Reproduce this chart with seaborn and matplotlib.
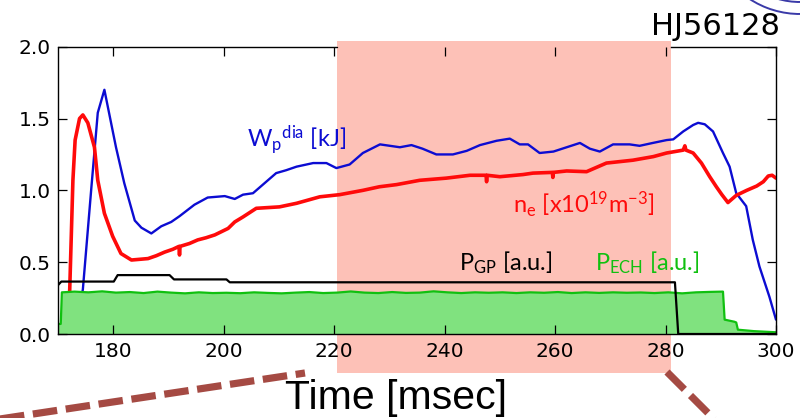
import matplotlib
matplotlib.use("Agg")
import matplotlib.pyplot as plt
import matplotlib.transforms as mtransforms
from matplotlib.patches import Rectangle, Arc
from matplotlib.lines import Line2D
import seaborn as sns

# ---------------- data ----------------
t_wp = [173.0, 174.5, 176.0, 177.2, 178.4, 180.5, 182.0, 183.9, 185.1, 186.9,
        188.7, 190.5, 192.0, 194.7, 197.1, 200.2, 202.0, 203.5, 205.3, 207.1,
        209.5, 211.3, 213.2, 216.2, 218.6, 220.4, 222.8, 225.2, 228.3, 231.9,
        234.0, 236.0, 238.5, 241.5, 244.0, 246.4, 249.4, 251.8, 253.6, 255.1,
        257.2, 259.7, 262.1, 264.5, 266.3, 268.1, 270.5, 273.5, 275.3, 277.7,
        280.2, 281.4, 283.2, 285.0, 285.9, 287.1, 288.6, 290.4, 291.6, 292.8,
        294.6, 295.8, 297.0, 298.8, 300.0]
wp = [0.0, 0.31, 1.00, 1.54, 1.70, 1.30, 1.05, 0.79, 0.74, 0.70,
      0.75, 0.78, 0.82, 0.90, 0.95, 0.96, 0.94, 0.97, 0.98, 1.04,
      1.12, 1.14, 1.165, 1.19, 1.19, 1.155, 1.18, 1.26, 1.32, 1.30,
      1.315, 1.29, 1.25, 1.25, 1.275, 1.315, 1.345, 1.36, 1.32, 1.32,
      1.26, 1.27, 1.30, 1.33, 1.29, 1.27, 1.32, 1.32, 1.31, 1.33,
      1.35, 1.355, 1.41, 1.455, 1.47, 1.46, 1.41, 1.26, 1.165, 0.98,
      0.89, 0.655, 0.47, 0.26, 0.10]

t_ne = [171.5, 172.1, 172.7, 173.1, 173.9, 174.5, 175.4, 176.6, 177.2, 178.4,
        179.9, 181.4, 183.3, 184.8, 186.3, 187.8, 189.3, 190.8, 191.9, 192.0,
        192.1, 193.8, 195.3, 196.8, 198.4, 200.8, 202.0, 203.5, 205.9, 208.0,
        210.1, 213.2, 217.4, 221.0, 225.2, 228.2, 231.3, 235.5, 240.3, 244.6,
        247.5, 247.6, 247.7, 250.0, 254.2, 256.0, 259.5, 259.6, 259.7, 262.1,
        265.7, 269.3, 271.7, 274.1, 277.8, 280.2, 283.2, 283.5, 283.7, 285.0,
        286.5, 288.0, 289.2, 290.2, 291.3, 292.8, 294.7, 296.5, 297.7, 298.6,
        299.3, 300.0]
ne = [0.0, 0.28, 1.07, 1.35, 1.50, 1.525, 1.47, 1.30, 1.07, 0.84,
      0.68, 0.56, 0.515, 0.52, 0.525, 0.545, 0.57, 0.59, 0.61, 0.55,
      0.61, 0.63, 0.655, 0.67, 0.69, 0.735, 0.78, 0.815, 0.875, 0.88,
      0.885, 0.91, 0.955, 0.97, 1.00, 1.025, 1.04, 1.07, 1.085, 1.105,
      1.105, 1.06, 1.105, 1.095, 1.11, 1.12, 1.125, 1.09, 1.125, 1.135,
      1.13, 1.19, 1.20, 1.21, 1.235, 1.26, 1.28, 1.31, 1.28, 1.26,
      1.19, 1.095, 1.025, 0.97, 0.915, 0.965, 1.00, 1.03, 1.06, 1.10,
      1.105, 1.085]

t_gp = [170.0, 170.6, 180.1, 180.8, 190.2, 191.0, 200.5, 201.1, 281.7, 282.3, 300.0]
gp = [0.34, 0.365, 0.365, 0.41, 0.41, 0.38, 0.38, 0.36, 0.36, 0.0, 0.0]

t_ech = [170.0, 170.5, 170.7, 173.0, 175.5, 178.0, 180.5, 183.0, 185.5, 188.0,
         190.5, 193.0, 195.5, 198.0, 200.5, 203.0, 205.5, 208.0, 210.5, 213.0,
         215.5, 218.0, 220.5, 223.0, 225.5, 228.0, 230.5, 233.0, 235.5, 238.0,
         240.5, 243.0, 245.5, 248.0, 250.5, 253.0, 255.5, 258.0, 260.5, 263.0,
         265.5, 268.0, 270.5, 273.0, 275.5, 278.0, 280.5, 283.0, 285.5, 288.0,
         290.4, 290.7, 292.5, 292.8, 293.1, 296.0, 300.0]
ech = [0.07, 0.07, 0.29, 0.295, 0.29, 0.297, 0.288, 0.292, 0.285, 0.295,
       0.288, 0.283, 0.29, 0.285, 0.287, 0.284, 0.29, 0.286, 0.283, 0.288,
       0.292, 0.285, 0.288, 0.296, 0.288, 0.285, 0.292, 0.286, 0.288, 0.297,
       0.29, 0.285, 0.29, 0.287, 0.29, 0.285, 0.29, 0.287, 0.292, 0.285,
       0.29, 0.286, 0.29, 0.287, 0.289, 0.285, 0.29, 0.283, 0.29, 0.293,
       0.295, 0.10, 0.085, 0.08, 0.03, 0.02, 0.012]

shade_span = [220.5, 281.0]
x_ticks = [180, 200, 220, 240, 260, 280, 300]
y_ticks = [0.0, 0.5, 1.0, 1.5, 2.0]

# ---------------- style ----------------
sns.set_style("ticks")
plt.rcParams['font.family'] = ['DejaVu Sans']
plt.rcParams['mathtext.fontset'] = 'custom'
plt.rcParams['mathtext.rm'] = 'Lato'
plt.rcParams['mathtext.it'] = 'Lato:italic'
plt.rcParams['mathtext.bf'] = 'Lato:bold'

W, H = 800, 418
fig = plt.figure(figsize=(8, 4.18), dpi=100)
ax = fig.add_axes([58 / W, 1 - 334 / H, (776 - 58) / W, (334 - 46.7) / H])
ax.set_axisbelow(False)

C_BLUE = "#0c0cd2"
C_RED = "#ff0a0a"
C_GREEN = "#10c010"
C_FILL = "#80e27f"
C_PINK = "#fdc1b7"
C_BROWN = "#a54a43"

# pink shaded window, reaching beyond the axes vertically
trans = mtransforms.blended_transform_factory(ax.transData, fig.transFigure)
y0f, y1f = 1 - 373 / H, 1 - 41 / H
ax.add_patch(Rectangle((shade_span[0], y0f), shade_span[1] - shade_span[0], y1f - y0f,
                       transform=trans, facecolor=C_PINK, edgecolor="none",
                       clip_on=False, zorder=1))

sns.lineplot(x=t_wp, y=wp, ax=ax, color=C_BLUE, lw=1.7, estimator=None, sort=False, zorder=2)
sns.lineplot(x=t_ne, y=ne, ax=ax, color=C_RED, lw=2.6, estimator=None, sort=False, zorder=2.1)
ax.fill_between(t_ech, ech, 0, color=C_FILL, lw=0, zorder=3)
sns.lineplot(x=t_ech, y=ech, ax=ax, color=C_GREEN, lw=1.6, estimator=None, sort=False, zorder=3.1)
sns.lineplot(x=t_gp, y=gp, ax=ax, color="black", lw=1.6, estimator=None, sort=False, zorder=4)

ax.set_xlim(170, 300)
ax.set_ylim(0, 2.0)
ax.set_xticks(x_ticks)
ax.set_yticks(y_ticks)
ax.set_yticklabels([f"{v:.1f}" for v in y_ticks])
ax.set_xlabel("")
ax.set_ylabel("")
ax.tick_params(direction="in", top=True, right=True, length=6.5, width=0.9,
               labelsize=14.5, pad=6, colors="black")
ax.tick_params(axis="y", pad=5)
ax.xaxis.set_zorder(4.5)
ax.yaxis.set_zorder(4.5)
for s in ax.spines.values():
    s.set_visible(True)
    s.set_linewidth(1.0)
    s.set_color("black")
    s.set_zorder(5)
# top frame is hidden under the pink window, as in the reference
ax.spines['top'].set_bounds(shade_span[1], 300)
ax.axhline(2.0, xmin=0, xmax=(shade_span[0] - 170) / 130, color="black",
           lw=1.0, clip_on=False, zorder=5)

# ---------------- texts ----------------
def ftxt(x, y, s, **kw):
    fig.text(x / W, 1 - y / H, s, va="baseline", **kw)

LAB = ["Lato", "DejaVu Sans"]
ftxt(247, 147, r"W$_\mathregular{p}$$^\mathregular{dia}$ [kJ]", color=C_BLUE, fontsize=17, family=LAB)
ftxt(513, 213, r"n$_\mathregular{e}$ [x10$^\mathregular{19}$m$^\mathregular{-3}$]", color=C_RED, fontsize=17, family=LAB)
ftxt(459, 270, r"P$_\mathregular{GP}$ [a.u.]", color="black", fontsize=17, family=LAB)
ftxt(595, 270, r"P$_\mathregular{ECH}$ [a.u.]", color=C_GREEN, fontsize=17, family=LAB)
ftxt(780, 35, "HJ56128", color="black", fontsize=22, ha="right")
ftxt(396, 409, "Time [msec]", color="black", fontsize=29.5, ha="center",
     family=["Liberation Sans", "DejaVu Sans"])

# ---------------- decorations: zoom guide dashes and logo ----------------
for (xa, ya, xb, yb) in [(0, 419, 305, 373), (667, 372, 714, 419)]:
    fig.add_artist(Line2D([xa / W, xb / W], [1 - ya / H, 1 - yb / H],
                          transform=fig.transFigure, color=C_BROWN, lw=5.2,
                          dashes=(3.4, 1.2), solid_capstyle="butt",
                          dash_capstyle="butt"))

for r in (92, 80):
    fig.add_artist(Arc((800 / W, 1 - (-78) / H), 2 * r / W, 2 * r / H,
                       theta1=180, theta2=300, transform=fig.transFigure,
                       color="#3a3aa8", lw=1.4))

fig.savefig("out.png", dpi=100)
